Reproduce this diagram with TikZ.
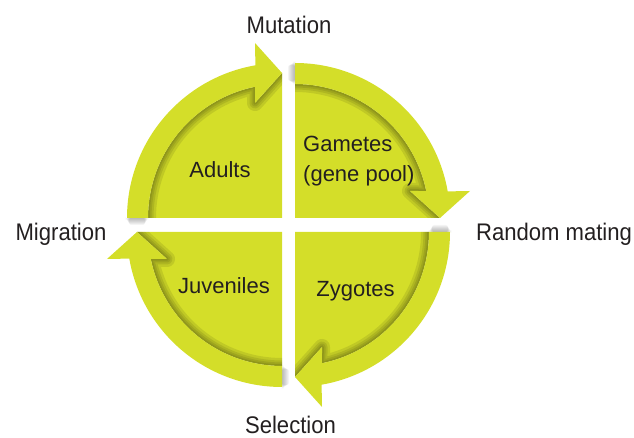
\documentclass[tikz,border=0pt]{standalone}
\usepackage{fontspec}
\setmainfont{Liberation Sans}
\newfontfamily\outerfont[FakeStretch=0.92]{Liberation Sans}
\usetikzlibrary{calc}
\definecolor{leaf}{RGB}{212,222,41}
\definecolor{ink}{RGB}{35,31,32}
\newcommand\quadDisc{(\c) -- ($(\c)+(\p+90:134)$) arc[start angle=\p+90,end angle=\p+11.62,radius=134] -- ($(\c)+(\p:115)+(\p+90:27)$) -- ($(\c)+(\p:145)$) -- cycle}
\newcommand\quadBand{($(\c)+(\p+90:134)$) arc[start angle=\p+90,end angle=\p+11.62,radius=134] -- ($(\c)+(\p:115)+(\p+90:27)$) -- ($(\c)+(\p:145)$) -- ($(\c)+(\p:175)+(\p+90:27)$) -- ($(\c)+(\p+9.88:155)$) arc[start angle=\p+9.88,end angle=\p+90,radius=155] -- cycle}
\begin{document}
\begin{tikzpicture}[x=1pt,y=1pt,
  outerlabel/.style={text=ink, font=\outerfont\fontsize{24}{28}\selectfont, inner sep=0pt, anchor=base},
  innerlabel/.style={text=ink, font=\fontsize{22}{26}\selectfont, inner sep=0pt, anchor=base}]
\useasboundingbox (0,0) rectangle (634,438);
\coordinate (cA) at (282,220);
\coordinate (cG) at (295,220);
\coordinate (cZ) at (295,206);
\coordinate (cJ) at (282,206);
\foreach \c/\p in {cA/90,cG/0,cZ/-90,cJ/-180}{
  \foreach \d in {1,2,3,4,5,6,7}{
    \fill[black,opacity=0.045,rounded corners=2pt] ($(\c)+(\p+90:133+0.6*\d)$) -- ($(\c)+(\p+90:157-0.6*\d)$) -- ($(\c)+(\p+90:157-0.6*\d)+(\p+180:\d)$) -- ($(\c)+(\p+90:133+0.6*\d)+(\p+180:\d)$) -- cycle;
  }
  \fill[leaf] \quadDisc;
  \begin{scope}
    \clip \quadDisc;
    \foreach \w in {16,11,7,3.5}{
      \draw[black,opacity=0.09,line width=\w pt,line join=round] \quadBand;
    }
  \end{scope}
  \fill[leaf] \quadBand;
}
\node[outerlabel] (mut) at (289,404.7) {Mutation};
\node[outerlabel] (rm) at (554,197) {Random mating};
\node[outerlabel] (mig) at (61,197) {Migration};
\node[outerlabel] (sel) at (290.5,4.5) {Selection};
\node[innerlabel] (ad) at (220,260) {Adults};
\node[innerlabel,anchor=base west] (g1) at (303,286) {Gametes};
\node[innerlabel,anchor=base west] (g2) at (303,256) {(gene pool)};
\node[innerlabel] (juv) at (224,144) {Juveniles};
\node[innerlabel] (zyg) at (355.5,141) {Zygotes};
\end{tikzpicture}
\end{document}
